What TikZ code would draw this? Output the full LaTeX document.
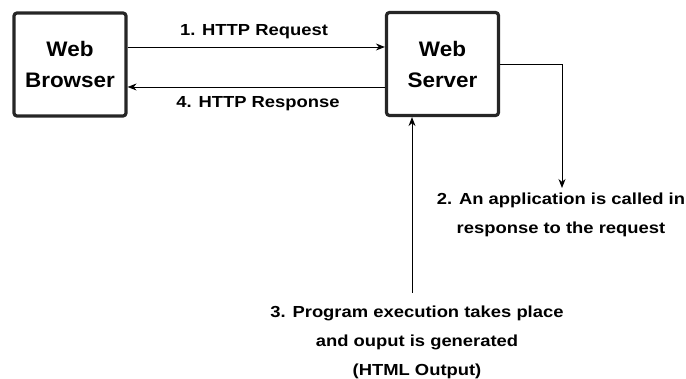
\documentclass[tikz,border=0pt]{standalone}
\usepackage{fontspec}
\setmainfont{Liberation Sans}
\usetikzlibrary{arrows.meta}
\newcommand{\wx}[1]{\scalebox{1.15}[1]{#1}}
\newcommand{\wb}[1]{\scalebox{1.07}[1]{#1}}
\begin{document}
\begin{tikzpicture}[x=1pt,y=-1pt,
  boxnode/.style={draw=black!85,line width=3.2pt,rounded corners=3pt,minimum width=112pt,minimum height=103pt,inner sep=0pt,align=center,font=\bfseries\fontsize{21}{31}\selectfont},
  lbl/.style={inner sep=0pt,align=center,font=\bfseries\fontsize{16}{29}\selectfont},
  conn/.style={line width=0.9pt,-{Stealth[length=9pt,width=7pt]}}]
\useasboundingbox (0,0) rectangle (686,379);
\node[boxnode] (wb) at (70,64.5) {\wb{Web}\\\wb{Browser}};
\node[boxnode] (ws) at (442.5,64) {\wb{Web}\\\wb{Server}};
\node[lbl] (l1) at (254,32) {\wx{1. HTTP Request}};
\node[lbl] (l4) at (258,104) {\wx{4. HTTP Response}};
\node[lbl] (l2) at (561,215) {\wx{2. An application is called in}\\\wx{response to the request}};
\node[lbl] (l3) at (417,342) {\wx{3. Program execution takes place}\\\wx{and ouput is generated}\\\wx{(HTML Output)}};
\coordinate (c2) at (562,188);
\coordinate (c3) at (412,293);
\draw[conn] (wb.east |- 0,47) -- (ws.west |- 0,47);
\draw[conn] (ws.west |- 0,87) -- (wb.east |- 0,87);
\draw[conn] (ws.east |- 0,64) -| (c2);
\draw[conn] (c3) -- (c3 |- ws.south);
\end{tikzpicture}
\end{document}
